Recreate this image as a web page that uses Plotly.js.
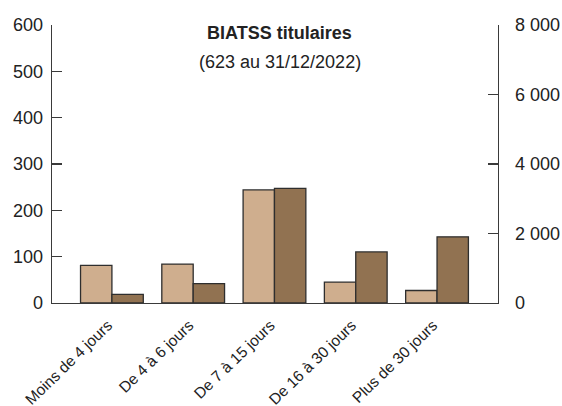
<!DOCTYPE html>
<html>
<head>
<meta charset="utf-8">
<script src="https://cdn.plot.ly/plotly-3.0.1.min.js"></script>
<style>
html,body{margin:0;padding:0;background:#fff;}
#chart{width:562px;height:406px;}
</style>
</head>
<body>
<div id="chart"></div>
<script>
const categories = ["Moins de 4 jours", "De 4 à 6 jours", "De 7 à 15 jours", "De 16 à 30 jours", "Plus de 30 jours"];
const agents = [81, 84, 244, 45, 27];
const jours = [251, 557, 3298, 1471, 1904];
const leftTicks = [0, 100, 200, 300, 400, 500, 600];
const rightTicks = [0, 2000, 4000, 6000, 8000];
const titleText = "BIATSS titulaires";
const subtitleText = "(623 au 31/12/2022)";

const FONT = "Liberation Sans, Arial, sans-serif";
const INK = "#222";
const AXIS = "#3a3a3a";

const traces = [
  {
    type: "bar", x: categories, y: agents, yaxis: "y",
    width: 0.386, offset: -0.386,
    marker: {color: "#CFAE8E", line: {color: "#2e2e2e", width: 1.3}},
    hoverinfo: "skip", showlegend: false
  },
  {
    type: "bar", x: categories, y: jours, yaxis: "y2",
    width: 0.386, offset: 0,
    marker: {color: "#917251", line: {color: "#2e2e2e", width: 1.3}},
    hoverinfo: "skip", showlegend: false
  }
];

const layout = {
  width: 562, height: 406,
  margin: {l: 52, r: 64, t: 25, b: 103, pad: 0},
  paper_bgcolor: "#fff", plot_bgcolor: "#fff",
  font: {family: FONT, color: INK, size: 18},
  separators: ", ",
  showlegend: false,
  xaxis: {
    type: "category",
    range: [-0.737, 4.75],
    showline: true, linecolor: AXIS, linewidth: 1.3,
    ticks: "", showgrid: false, zeroline: false,
    tickangle: -44,
    tickfont: {family: FONT, size: 15.5, color: INK},
    ticklabelstandoff: 6,
    ticklabelshift: -4
  },
  yaxis: {
    range: [0, 600],
    tickvals: leftTicks,
    showline: true, linecolor: AXIS, linewidth: 1.3,
    ticks: "inside", ticklen: 10, tickwidth: 1.3, tickcolor: AXIS,
    showgrid: false, zeroline: false,
    tickfont: {family: FONT, size: 18, color: INK},
    ticklabelstandoff: 4
  },
  yaxis2: {
    overlaying: "y", side: "right",
    range: [0, 8000],
    tickvals: rightTicks,
    separatethousands: true,
    showline: true, linecolor: AXIS, linewidth: 1.3,
    ticks: "inside", ticklen: 10, tickwidth: 1.3, tickcolor: AXIS,
    showgrid: false, zeroline: false,
    tickfont: {family: FONT, size: 18, color: INK},
    ticklabelstandoff: 12
  },
  annotations: [
    {text: "<b>" + titleText + "</b>", xref: "paper", yref: "paper", x: 0.511, y: 0.971,
     xanchor: "center", yanchor: "middle", showarrow: false, font: {family: FONT, size: 18, color: INK}},
    {text: subtitleText, xref: "paper", yref: "paper", x: 0.512, y: 0.867,
     xanchor: "center", yanchor: "middle", showarrow: false, font: {family: FONT, size: 18, color: INK}}
  ]
};

Plotly.newPlot("chart", traces, layout, {staticPlot: true, displayModeBar: false});
</script>
</body>
</html>
